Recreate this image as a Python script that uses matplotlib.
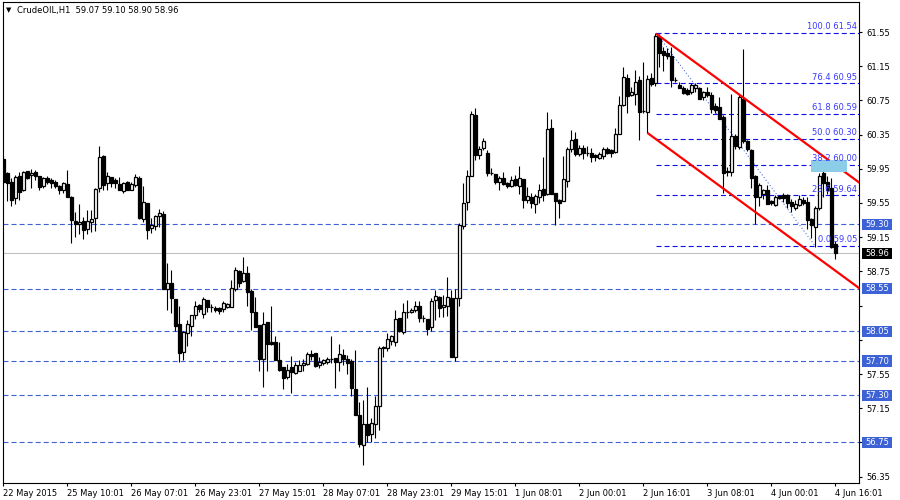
import numpy as np
import matplotlib
matplotlib.use("Agg")
import matplotlib.pyplot as plt
import matplotlib.transforms as mtransforms
from matplotlib.patches import Rectangle

# CrudeOIL H1 candles, one row per bar: open, high, low, close
opens = [60.07, 59.90, 59.80, 59.61, 59.87, 59.70, 59.92, 59.88, 59.91, 59.87,
         59.75, 59.84, 59.82, 59.79, 59.75, 59.70, 59.77, 59.62, 59.34, 59.30,
         59.34, 59.25, 59.33, 59.37, 59.72, 60.10, 59.78, 59.85, 59.82, 59.77,
         59.69, 59.79, 59.70, 59.76, 59.84, 59.36, 59.55, 59.26, 59.28, 59.40,
         59.42, 58.54, 58.61, 58.43, 58.13, 57.81, 58.03, 58.11, 58.24, 58.36,
         58.25, 58.42, 58.33, 58.32, 58.32, 58.31, 58.33, 58.33, 58.54, 58.76,
         58.64, 58.73, 58.52, 58.27, 58.12, 57.72, 58.16, 57.92, 57.93, 57.71,
         57.63, 57.51, 57.63, 57.56, 57.59, 57.66, 57.67, 57.78, 57.79, 57.66,
         57.68, 57.69, 57.72, 57.74, 57.69, 57.77, 57.73, 57.70, 57.38, 57.07,
         56.72, 56.97, 56.85, 56.97, 57.17, 57.85, 57.85, 57.94, 57.92, 58.20,
         58.04, 58.28, 58.27, 58.30, 58.35, 58.20, 58.19, 58.10, 58.41, 58.45,
         58.33, 58.34, 58.44, 57.75, 58.44, 59.28, 59.56, 59.86, 60.58, 60.11,
         60.19, 60.14, 59.90, 59.89, 59.79, 59.84, 59.78, 59.75, 59.83, 59.75,
         59.83, 59.58, 59.62, 59.54, 59.62, 59.71, 59.66, 60.43, 59.67, 59.58,
         59.57, 59.81, 60.18, 60.30, 60.12, 60.19, 60.14, 60.13, 60.11, 60.08,
         60.10, 60.18, 60.17, 60.15, 60.36, 60.70, 61.01, 60.81, 60.83, 60.99,
         60.63, 60.62, 61.01, 60.95, 61.49, 61.33, 61.31, 61.27, 60.99, 60.93,
         60.90, 60.87, 60.85, 60.90, 60.90, 60.79, 60.85, 60.81, 60.68, 60.67,
         60.56, 59.91, 59.91, 60.33, 60.20, 60.77, 60.27, 60.17, 59.86, 59.62,
         59.65, 59.70, 59.57, 59.53, 59.63, 59.64, 59.64, 59.56, 59.49, 59.53,
         59.58, 59.56, 59.36, 59.27, 59.49, 59.90, 59.80, 59.72, 59.07]
highs = [60.10, 59.91, 59.84, 59.88, 59.91, 59.92, 59.92, 59.95, 59.94, 59.87,
         59.85, 59.87, 59.84, 59.82, 59.76, 59.79, 59.94, 59.63, 59.44, 59.54,
         59.39, 59.47, 59.47, 59.72, 60.22, 60.11, 59.91, 59.85, 59.84, 59.85,
         59.79, 59.81, 59.79, 59.89, 59.86, 59.75, 59.55, 59.37, 59.41, 59.48,
         59.46, 58.85, 58.77, 58.43, 58.34, 58.05, 58.18, 58.24, 58.40, 58.37,
         58.45, 58.42, 58.37, 58.34, 58.33, 58.40, 58.38, 58.65, 58.80, 58.77,
         58.92, 58.81, 58.54, 58.45, 58.12, 58.28, 58.16, 58.34, 57.99, 57.92,
         57.63, 57.67, 57.76, 57.69, 57.71, 57.73, 57.81, 57.83, 57.79, 57.75,
         57.73, 57.75, 57.99, 57.74, 57.90, 57.84, 57.77, 57.72, 57.83, 57.22,
         57.25, 57.40, 57.03, 57.29, 57.88, 57.88, 58.03, 58.01, 58.30, 58.20,
         58.38, 58.41, 58.32, 58.40, 58.40, 58.24, 58.19, 58.44, 58.53, 58.46,
         58.47, 58.69, 58.53, 58.54, 59.32, 59.78, 59.94, 60.63, 60.66, 60.22,
         60.31, 60.17, 59.96, 59.89, 59.86, 59.91, 59.80, 59.87, 59.88, 59.98,
         59.83, 59.74, 59.67, 59.66, 59.77, 60.09, 60.62, 60.53, 59.67, 59.60,
         60.10, 60.21, 60.40, 60.38, 60.23, 60.23, 60.22, 60.19, 60.12, 60.15,
         60.21, 60.21, 60.18, 60.43, 60.80, 61.14, 61.06, 60.91, 61.11, 61.03,
         61.20, 61.05, 61.07, 61.54, 61.53, 61.38, 61.36, 61.38, 61.02, 60.96,
         60.92, 60.90, 60.95, 60.95, 60.91, 60.86, 60.91, 60.85, 60.72, 60.79,
         60.58, 59.97, 60.83, 60.36, 60.81, 61.35, 60.29, 60.18, 59.88, 59.78,
         59.71, 59.76, 59.58, 59.64, 59.64, 59.67, 59.66, 59.60, 59.58, 59.64,
         59.62, 59.62, 59.37, 59.51, 59.90, 59.92, 59.86, 59.84, 59.10]
lows = [59.78, 59.57, 59.52, 59.54, 59.59, 59.69, 59.83, 59.73, 59.82, 59.70,
        59.73, 59.77, 59.73, 59.72, 59.65, 59.67, 59.62, 59.08, 59.15, 59.19,
        59.13, 59.19, 59.21, 59.22, 59.68, 59.70, 59.70, 59.74, 59.73, 59.70,
        59.67, 59.70, 59.70, 59.74, 59.36, 59.33, 59.13, 59.20, 59.23, 59.27,
        58.54, 58.30, 58.26, 58.05, 57.69, 57.71, 57.88, 57.99, 58.19, 58.28,
        58.21, 58.28, 58.27, 58.28, 58.25, 58.28, 58.32, 58.33, 58.52, 58.57,
        58.63, 58.35, 58.06, 58.10, 57.58, 57.40, 57.59, 57.89, 57.71, 57.58,
        57.38, 57.49, 57.33, 57.55, 57.58, 57.59, 57.66, 57.71, 57.63, 57.62,
        57.66, 57.67, 57.68, 57.39, 57.58, 57.65, 57.55, 57.29, 57.07, 56.70,
        56.49, 56.76, 56.76, 56.80, 56.90, 57.75, 57.82, 57.89, 57.88, 58.04,
        58.02, 58.20, 58.26, 58.28, 58.16, 58.16, 58.01, 58.05, 58.18, 58.22,
        58.22, 58.23, 57.75, 57.70, 58.34, 59.25, 59.47, 59.86, 60.05, 60.06,
        60.17, 59.86, 59.88, 59.77, 59.70, 59.76, 59.73, 59.74, 59.75, 59.66,
        59.49, 59.55, 59.49, 59.43, 59.55, 59.57, 59.64, 59.65, 59.29, 59.38,
        59.57, 59.74, 60.15, 60.10, 60.10, 60.07, 60.10, 60.03, 60.04, 60.07,
        60.07, 60.12, 60.09, 60.14, 60.36, 60.68, 60.60, 60.80, 60.70, 60.29,
        60.60, 60.37, 60.92, 60.92, 61.14, 61.09, 61.24, 60.91, 60.96, 60.89,
        60.83, 60.81, 60.83, 60.85, 60.77, 60.76, 60.79, 60.60, 60.60, 60.53,
        59.67, 59.86, 59.86, 60.18, 60.18, 60.25, 60.16, 59.72, 59.31, 59.51,
        59.60, 59.54, 59.53, 59.51, 59.60, 59.56, 59.49, 59.45, 59.47, 59.51,
        59.53, 59.25, 59.14, 59.04, 59.47, 59.62, 59.66, 59.02, 58.90]
closes = [59.80, 59.78, 59.59, 59.85, 59.68, 59.91, 59.84, 59.90, 59.87, 59.74,
          59.84, 59.80, 59.78, 59.75, 59.70, 59.78, 59.62, 59.35, 59.30, 59.33,
          59.24, 59.34, 59.36, 59.71, 60.09, 59.76, 59.87, 59.78, 59.78, 59.70,
          59.78, 59.70, 59.77, 59.85, 59.38, 59.56, 59.24, 59.29, 59.40, 59.43,
          58.54, 58.61, 58.44, 58.11, 57.79, 58.04, 58.13, 58.24, 58.35, 58.31,
          58.43, 58.33, 58.33, 58.30, 58.29, 58.38, 58.37, 58.56, 58.77, 58.62,
          58.73, 58.51, 58.27, 58.10, 57.73, 58.13, 57.90, 57.90, 57.71, 57.60,
          57.50, 57.60, 57.57, 57.65, 57.65, 57.68, 57.78, 57.76, 57.64, 57.69,
          57.71, 57.72, 57.73, 57.69, 57.78, 57.72, 57.68, 57.39, 57.07, 56.73,
          56.97, 56.84, 56.98, 57.18, 57.85, 57.86, 57.96, 57.99, 58.19, 58.05,
          58.27, 58.28, 58.30, 58.35, 58.20, 58.20, 58.08, 58.40, 58.46, 58.32,
          58.36, 58.45, 57.75, 58.44, 59.29, 59.55, 59.87, 60.59, 60.11, 60.18,
          60.27, 59.90, 59.90, 59.80, 59.84, 59.77, 59.75, 59.82, 59.76, 59.84,
          59.58, 59.63, 59.55, 59.63, 59.70, 59.64, 60.42, 59.65, 59.57, 59.55,
          59.83, 60.18, 60.29, 60.12, 60.19, 60.14, 60.14, 60.09, 60.09, 60.12,
          60.18, 60.14, 60.13, 60.36, 60.70, 61.02, 60.80, 60.85, 60.96, 60.61,
          60.63, 61.00, 60.94, 61.50, 61.30, 61.28, 61.27, 60.99, 60.99, 60.90,
          60.84, 60.82, 60.93, 60.93, 60.77, 60.85, 60.81, 60.65, 60.64, 60.53,
          59.90, 59.92, 60.33, 60.22, 60.79, 60.27, 60.18, 59.84, 59.62, 59.76,
          59.70, 59.54, 59.55, 59.62, 59.61, 59.61, 59.55, 59.51, 59.54, 59.60,
          59.55, 59.35, 59.29, 59.49, 59.86, 59.78, 59.70, 59.04, 58.96]

time_labels = ["22 May 2015", "25 May 10:01", "26 May 07:01", "26 May 23:01",
               "27 May 15:01", "28 May 07:01", "28 May 23:01", "29 May 15:01",
               "1 Jun 08:01", "2 Jun 00:01", "2 Jun 16:01", "3 Jun 08:01",
               "4 Jun 00:01", "4 Jun 16:01"]
label_step = 16

price_ticks = [61.55, 61.15, 60.75, 60.35, 59.95, 59.55, 59.15, 58.75,
               58.35, 57.95, 57.55, 57.15, 56.75, 56.35]
hidden_ticks = [58.35, 57.95, 56.75]

levels = [59.30, 58.55, 58.05, 57.70, 57.30, 56.75]
bid = 58.96

fib_pct = [100.0, 76.4, 61.8, 50.0, 38.2, 23.6, 0.0]
fib_price = [61.54, 60.95, 60.59, 60.30, 60.00, 59.64, 59.05]
fib_start = 163.2
fib_end = 202.9

chan_upper = (163.2, 61.53)
chan_lower = (161.0, 60.37)
chan_slope = -0.0343

o = np.array(opens); h = np.array(highs); l = np.array(lows); c = np.array(closes)
idx = np.arange(len(o))

plt.rcParams['lines.scale_dashes'] = False
plt.rcParams['font.family'] = 'DejaVu Sans'

W, H = 900, 500
fig = plt.figure(figsize=(9, 5), dpi=100)
# axes box in pixels: x 2.5..859, y 2..483
ax = fig.add_axes([2.5 / W, (H - 483) / H, 856.5 / W, 481 / H])
ppu = 85.5
ax.set_ylim(61.55 - (483 - 32) / ppu, 61.55 + 30 / ppu)
ax.set_xlim(-0.2, 213.9)
xmax = 213.9

# horizontal levels
dash = (0, (3.6, 2.2))
for p in levels:
    ax.axhline(p, color='#3d62d6', lw=0.8, ls=dash, zorder=1)
ax.axhline(bid, color='#c0c0c0', lw=0.8, zorder=1)

# fibonacci
for p in fib_price:
    ax.plot([fib_start, xmax], [p, p], color='#1010e6', lw=0.8, ls=dash, zorder=1)
ax.plot([fib_start, fib_end], [fib_price[0], fib_price[-1]], color='#3d62d6',
        lw=0.7, ls=(0, (0.8, 1.6)), zorder=1)

# candles
up = c >= o
ax.vlines(idx, l, h, color='black', lw=0.8, zorder=3)
ax.bar(idx, np.abs(c - o), bottom=np.minimum(o, c), width=0.6,
       color=np.where(up, 'white', 'black'), edgecolor='black', linewidth=0.9, zorder=4)

# channel
for x0, y0 in (chan_upper, chan_lower):
    ax.plot([x0, xmax + 5], [y0, y0 + chan_slope * (xmax + 5 - x0)], color='#ff0000',
            lw=1.6, zorder=5, solid_capstyle='butt')

ax.add_patch(Rectangle((201.9, 59.91), 9.0, 0.14, facecolor='#8ccde8',
                       edgecolor='none', zorder=6))

xr = (857 - 2.5) / 856.5
for pct, p in zip(fib_pct, fib_price):
    ax.annotate(f"{pct:.1f} {p:.2f}", xy=(xr, p), xycoords=('axes fraction', 'data'),
                xytext=(0, 1.2), textcoords='offset points', ha='right', va='bottom',
                fontsize=6, color='#3a3aff', zorder=7)

# axes styling
for s in ax.spines.values():
    s.set_linewidth(0.8)
    s.set_color('black')
ax.set_xticks(idx[::label_step][:len(time_labels)])
ax.set_xticklabels(time_labels, fontsize=6, ha='left')
ax.tick_params(axis='x', direction='out', length=2.5, width=0.8, pad=1.5)
ax.yaxis.tick_right()
ax.set_yticks(price_ticks)
ax.set_yticklabels(['' if t in hidden_ticks else f"{t:.2f}" for t in price_ticks],
                   fontsize=6)
ax.tick_params(axis='y', direction='out', length=2.5, width=0.8, pad=3)

# price boxes on the right scale
tr = mtransforms.blended_transform_factory(ax.transAxes, ax.transData)
bx0 = (862 - 2.5) / 856.5
bw = 30 / 856.5
bh = 11.5 / ppu
for p, fc in [(v, '#3d62d6') for v in levels] + [(bid, 'black')]:
    ax.add_patch(Rectangle((bx0, p - bh / 2), bw, bh, transform=tr, facecolor=fc,
                           edgecolor='none', clip_on=False, zorder=8))
    ax.text(bx0 + 3 / 856.5, p, f"{p:.2f}", transform=tr, color='white', fontsize=6,
            va='center', ha='left', zorder=9, clip_on=False)

fig.text(6 / W, 1 - 10.5 / H, "\u25bc", fontsize=5, va='center', ha='left')
fig.text(17 / W, 1 - 10.5 / H, "CrudeOIL,H1  59.07 59.10 58.90 58.96", fontsize=6,
         va='center', ha='left')

fig.savefig("out.png", dpi=100)
